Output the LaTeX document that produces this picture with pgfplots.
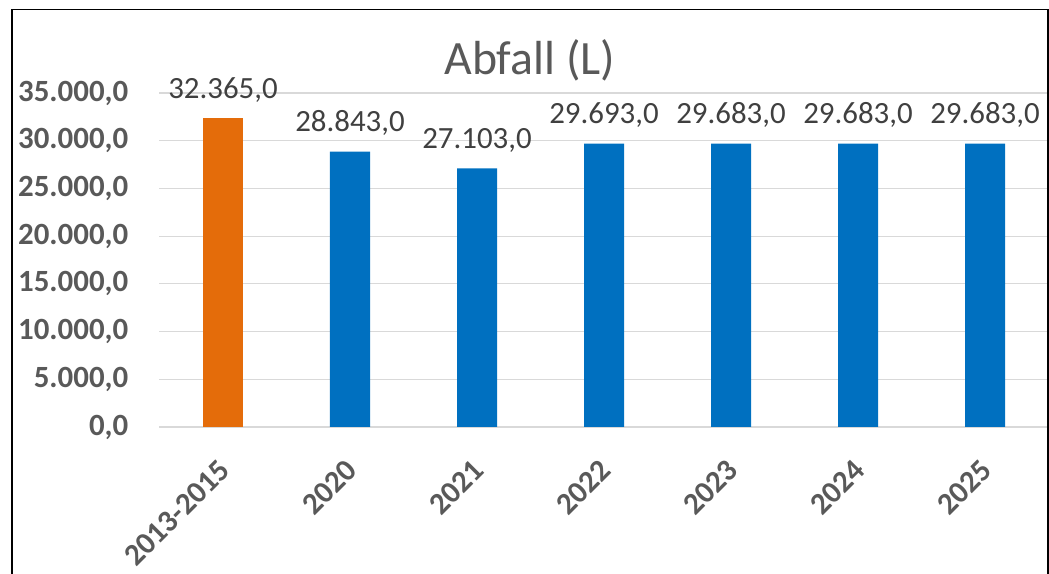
\documentclass[border=0pt]{standalone}
\usepackage{pgfplots}
\pgfplotsset{compat=1.18}
\usepackage{fontspec}
\setmainfont{Carlito}
\definecolor{barorange}{HTML}{E46C0A}
\definecolor{barblue}{HTML}{0070C0}
\definecolor{gridgray}{HTML}{D9D9D9}
\definecolor{ticktext}{HTML}{595959}
\definecolor{labeltext}{HTML}{404040}
\begin{document}
\begin{tikzpicture}[x=1bp,y=1bp]
\begin{axis}[
  at={(0,0)}, anchor=south west,
  scale only axis, width=889bp, height=334bp,
  xmin=-0.5, xmax=6.5, ymin=0, ymax=35000,
  ytick={0,5000,...,35000},
  scaled ticks=false,
  xtick={0,...,6},
  xticklabels={2013-2015,2020,2021,2022,2023,2024,2025},
  ymajorgrids, grid style={gridgray, line width=1.2bp},
  axis x line*=bottom, axis y line*=left,
  y axis line style={draw=none},
  x axis line style={draw=gridgray, line width=1.2bp, -},
  major tick length=0pt,
  /pgf/number format/.cd, fixed, fixed zerofill, precision=1, use comma, 1000 sep={.}, assume math mode=true,
  /pgfplots/.cd,
  yticklabel style={font=\fontsize{31}{36}\selectfont\bfseries, text=ticktext, anchor=east, inner sep=0pt, xshift=-31bp},
  xticklabel style={font=\fontsize{31}{36}\selectfont\bfseries, text=ticktext, inner sep=0pt, xshift=2bp, yshift=-38bp, rotate=45, anchor=east},
  ybar, bar width=40bp, bar shift=0pt,
  nodes near coords,
  nodes near coords style={font=\fontsize{31}{36}\selectfont, text=labeltext, anchor=base, inner sep=0pt, yshift=20bp, /pgf/number format/.cd, fixed, fixed zerofill, precision=1, use comma, 1000 sep={.}, assume math mode=true},
]
\addplot[fill=barorange, draw=none] coordinates {(0,32365)};
\addplot[fill=barblue, draw=none] coordinates {(1,28843) (2,27103) (3,29693) (4,29683) (5,29683) (6,29683)};
\end{axis}
\node[anchor=base, text=ticktext, font=\fontsize{48}{54}\selectfont, inner sep=0pt] at (370.5, 352) {Abfall (L)};
\draw[line width=1.3bp, black] (-147.5,-160) -- (-147.5,417.5) -- (888.5,417.5) -- (888.5,-160);
\pgfresetboundingbox
\useasboundingbox (-159.5,-147) rectangle (889.5,427);
\end{tikzpicture}
\end{document}
